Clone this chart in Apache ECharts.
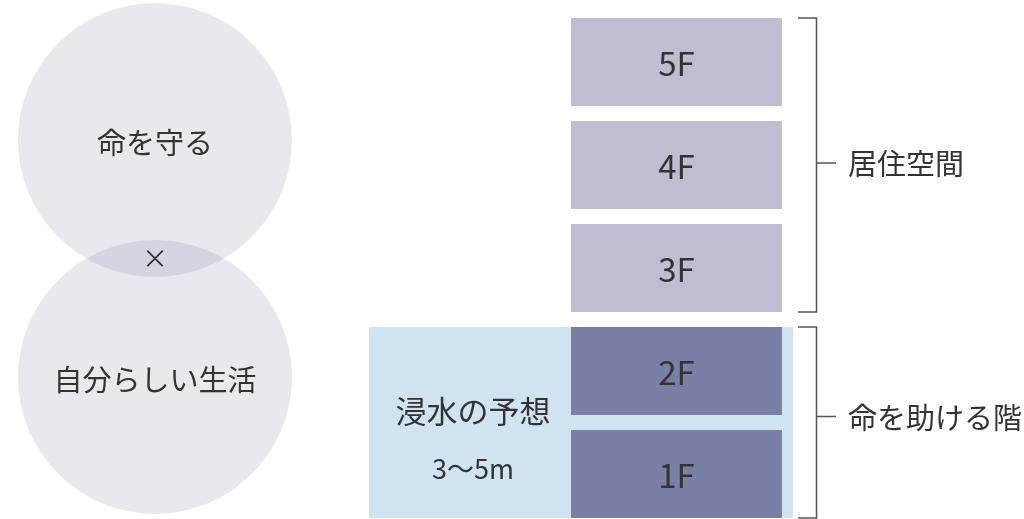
<!DOCTYPE html>
<html>
<head>
<meta charset="utf-8">
<script src="https://cdn.jsdelivr.net/npm/echarts@6/dist/echarts.min.js"></script>
<style>
html,body{margin:0;padding:0;background:#fff;}
#main{width:1024px;height:519px;}
</style>
</head>
<body>
<div id="main"></div>
<script>
// ---- data ----
const floors = ['1F', '2F', '3F', '4F', '5F'];
const floorGroup = ['safe', 'safe', 'living', 'living', 'living'];
const groupNames = ['命を助ける階', '居住空間'];
const groupKeys = ['safe', 'living'];
const circleLabels = ['命を守る', '自分らしい生活'];
const circleJoin = '×';
const floodTitle = '浸水の予想';
const floodDepth = '3〜5m';

// ---- styles ----
const FONT = '"Noto Sans CJK JP", "Noto Sans", sans-serif';
const TEXT = '#333333';
const colors = { living: '#bebdd2', safe: '#7a7fa6', flood: '#d0e3f0', circle: 'rgba(120,120,162,0.17)' };

const chart = echarts.init(document.getElementById('main'), null, { renderer: 'canvas' });

function groupRange(key) {
  const idx = floorGroup.map((g, i) => g === key ? i : -1).filter(i => i >= 0);
  return [Math.min.apply(null, idx), Math.max.apply(null, idx)];
}
const BOX = 0.854; // fraction of a floor band used by a floor box

const option = {
  animation: false,
  backgroundColor: '#ffffff',
  grid: { left: 0, right: 0, top: 10.5, bottom: 0, containLabel: false },
  xAxis: { type: 'value', min: 0, max: 1024, show: false },
  // floor level axis: floor i occupies [i, i+1]
  yAxis: { type: 'value', min: 0.063, max: 5, show: false },
  series: [
    // circles
    {
      type: 'custom',
      coordinateSystem: 'none',
      silent: true,
      data: circleLabels.map((t, i) => [i, t]),
      renderItem: function (params, api) {
        const i = api.value(0);
        const cx = 155, cy = i === 0 ? 140 : 377, r = 137;
        return {
          type: 'group',
          children: [
            { type: 'circle', shape: { cx: cx, cy: cy, r: r }, style: { fill: colors.circle } },
            { type: 'text', style: { x: cx, y: cy + 3, text: circleLabels[i], fill: TEXT, font: '29px ' + FONT, align: 'center', verticalAlign: 'middle' } }
          ]
        };
      }
    },
    {
      type: 'custom',
      coordinateSystem: 'none',
      silent: true,
      data: [[0]],
      renderItem: function () {
        return { type: 'text', style: { x: 155, y: 258, text: circleJoin, fill: TEXT, font: '26px ' + FONT, align: 'center', verticalAlign: 'middle' } };
      }
    },
    // flood band
    {
      type: 'custom',
      silent: true,
      data: [groupRange('safe')],
      renderItem: function (params, api) {
        const lo = api.value(0), hi = api.value(1);
        const band = api.size([0, 1])[1];
        const top = api.coord([0, hi + 0.5])[1] - band * BOX / 2;
        const bot = api.coord([0, lo + 0.5])[1] + band * BOX / 2;
        const x0 = api.coord([369, 0])[0], x1 = api.coord([793, 0])[0];
        const mid = (top + bot) / 2;
        return {
          type: 'group',
          children: [
            { type: 'rect', shape: { x: x0, y: top, width: x1 - x0, height: bot - top }, style: { fill: colors.flood } },
            { type: 'text', style: { x: 473, y: mid - 11, text: floodTitle, fill: TEXT, font: '31px ' + FONT, align: 'center', verticalAlign: 'middle' } },
            { type: 'text', style: { x: 473, y: mid + 46, text: floodDepth, fill: TEXT, font: '27px ' + FONT, align: 'center', verticalAlign: 'middle' } }
          ]
        };
      }
    },
    // floor boxes
    {
      type: 'custom',
      silent: true,
      data: floors.map((f, i) => [i, f]),
      renderItem: function (params, api) {
        const i = api.value(0);
        const c = api.coord([0, i + 0.5]);
        const band = api.size([0, 1])[1];
        const h = band * BOX;
        const x0 = api.coord([571, 0])[0], x1 = api.coord([782, 0])[0];
        return {
          type: 'group',
          children: [
            { type: 'rect', shape: { x: x0, y: c[1] - h / 2, width: x1 - x0, height: h }, style: { fill: colors[floorGroup[i]] } },
            { type: 'text', style: { x: (x0 + x1) / 2, y: c[1] + 1, text: floors[i], fill: TEXT, font: '33px ' + FONT, align: 'center', verticalAlign: 'middle' } }
          ]
        };
      }
    },
    // brackets
    {
      type: 'custom',
      silent: true,
      data: groupKeys.map((k, gi) => groupRange(k).concat([gi])),
      renderItem: function (params, api) {
        const lo = api.value(0), hi = api.value(1), gi = api.value(2);
        const band = api.size([0, 1])[1];
        const top = api.coord([0, hi + 0.5])[1] - band * BOX / 2;
        const bot = api.coord([0, lo + 0.5])[1] + band * BOX / 2;
        const mid = (top + bot) / 2 - (gi === 0 ? 6 : 2);
        const xa = 798, xv = 816.5, xt = 836;
        const ls = { stroke: '#555555', lineWidth: 1.5, fill: null };
        return {
          type: 'group',
          children: [
            { type: 'polyline', shape: { points: [[xa, top], [xv, top], [xv, bot], [xa, bot]] }, style: ls },
            { type: 'line', shape: { x1: xv, y1: mid, x2: xt, y2: mid }, style: ls },
            { type: 'text', style: { x: 848, y: mid + 1, text: groupNames[gi], fill: TEXT, font: '29px ' + FONT, align: 'left', verticalAlign: 'middle' } }
          ]
        };
      }
    }
  ]
};
chart.setOption(option);
</script>
</body>
</html>
